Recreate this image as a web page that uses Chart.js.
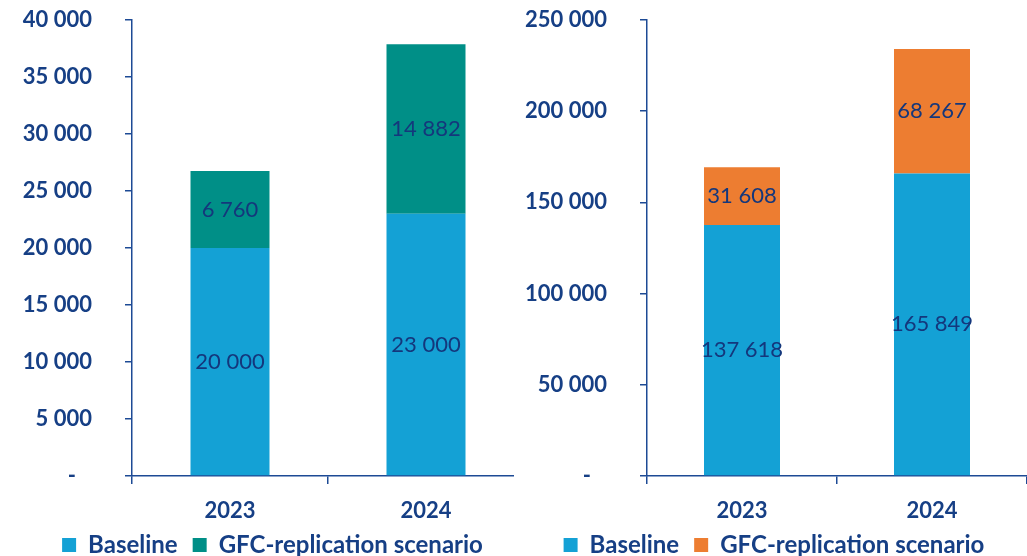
<!DOCTYPE html>
<html>
<head>
<meta charset="utf-8">
<script src="https://cdn.jsdelivr.net/npm/chart.js@4.4.1/dist/chart.umd.min.js"></script>
<style>
  html, body { margin: 0; padding: 0; background: #fff; }
  #page { position: relative; width: 1027px; height: 556px; overflow: hidden; }
  .panel { position: absolute; top: 0; height: 556px; overflow: hidden; }
  #leftPanel { left: 0; width: 514px; }
  #rightPanel { left: 514px; width: 513px; }
  canvas { display: block; position: absolute; top: 0; }
  #leftChart { left: 21px; }
  #rightChart { left: 7px; }
</style>
</head>
<body>
<div id="page">
  <div class="panel" id="leftPanel"><canvas id="leftChart" width="503" height="567"></canvas></div>
  <div class="panel" id="rightPanel"><canvas id="rightChart" width="506" height="567"></canvas></div>
</div>
<script>
// Years on the category axis
const categories = ['2023', '2024'];

// Left panel series
const leftBaseline = [20000, 23000];
const leftGfc = [6760, 14882];
const leftTicks = [0, 5000, 10000, 15000, 20000, 25000, 30000, 35000, 40000];

// Right panel series
const rightBaseline = [137618, 165849];
const rightGfc = [31608, 68267];
const rightTicks = [0, 50000, 100000, 150000, 200000, 250000];

const seriesNames = ['Baseline', 'GFC-replication scenario'];

const BLUE = '#14a1d5';
const TEAL = '#008f87';
const ORANGE = '#ed7d31';
const NAVY = '#163f85';
const LABEL_NAVY = '#14377c';
const AXIS = '#1d4a95';
const FONT = 'Lato, "Open Sans", sans-serif';

// Thousands separated by a space: 137618 -> "137 618"
function fmt(v) {
  return String(v).replace(/\B(?=(\d{3})+(?!\d))/g, ' ');
}

// Writes each segment's value in the middle of its bar piece
const segmentLabels = {
  id: 'segmentLabels',
  afterDatasetsDraw(chart) {
    const ctx = chart.ctx;
    ctx.save();
    ctx.font = '400 22px ' + FONT;
    ctx.fillStyle = LABEL_NAVY;
    ctx.textAlign = 'center';
    ctx.textBaseline = 'middle';
    chart.data.datasets.forEach((ds, i) => {
      chart.getDatasetMeta(i).data.forEach((bar, j) => {
        const p = bar.getProps(['x', 'y', 'base'], true);
        ctx.fillText(fmt(ds.data[j]), p.x, (p.y + p.base) / 2);
      });
    });
    ctx.restore();
  }
};

function makeChart(id, baseline, scenario, scenarioColor, ticks, yWidth, barPct) {
  const step = ticks[1] - ticks[0];
  return new Chart(document.getElementById(id), {
    type: 'bar',
    data: {
      labels: categories,
      datasets: [
        { label: seriesNames[0], data: baseline, backgroundColor: BLUE,
          categoryPercentage: 1, barPercentage: barPct },
        { label: seriesNames[1], data: scenario, backgroundColor: scenarioColor,
          categoryPercentage: 1, barPercentage: barPct }
      ]
    },
    options: {
      responsive: false,
      animation: false,
      devicePixelRatio: 1,
      layout: { padding: { top: 20, right: 0, bottom: 0, left: 0 } },
      plugins: {
        tooltip: { enabled: false },
        legend: {
          position: 'bottom',
          labels: {
            boxWidth: 14, boxHeight: 14, padding: 15,
            color: NAVY,
            font: { family: FONT, size: 24, weight: 'bold' }
          }
        }
      },
      scales: {
        x: {
          stacked: true,
          grid: { offset: true, drawOnChartArea: false, drawTicks: true, tickLength: 8,
                  color: AXIS, lineWidth: 1.5 },
          border: { display: true, color: AXIS, width: 1.5 },
          ticks: { color: NAVY, padding: 14, font: { family: FONT, size: 22, weight: 'bold' } },
          afterFit(scale) {
            scale.height = 42;
            scale.paddingLeft = 0;
            scale.paddingRight = 0;
          }
        },
        y: {
          stacked: true,
          min: ticks[0],
          max: ticks[ticks.length - 1],
          afterBuildTicks(scale) { scale.ticks = ticks.map(v => ({ value: v })); },
          grid: { drawOnChartArea: false, drawTicks: true, tickLength: 7,
                  color: AXIS, lineWidth: 1.5 },
          border: { display: true, color: AXIS, width: 1.5 },
          ticks: {
            stepSize: step,
            padding: 33,
            color: NAVY,
            font: { family: FONT, size: 22, weight: 'bold' },
            callback: v => (v === 0 ? '-   ' : fmt(v))
          },
          afterFit(scale) {
            scale.width = yWidth;
            scale.paddingTop = 0;
            scale.paddingBottom = 0;
          }
        }
      }
    },
    plugins: [segmentLabels]
  });
}

makeChart('leftChart', leftBaseline, leftGfc, TEAL, leftTicks, 111, 79 / 196);
makeChart('rightChart', rightBaseline, rightGfc, ORANGE, rightTicks, 126, 76 / 190);
</script>
</body>
</html>
